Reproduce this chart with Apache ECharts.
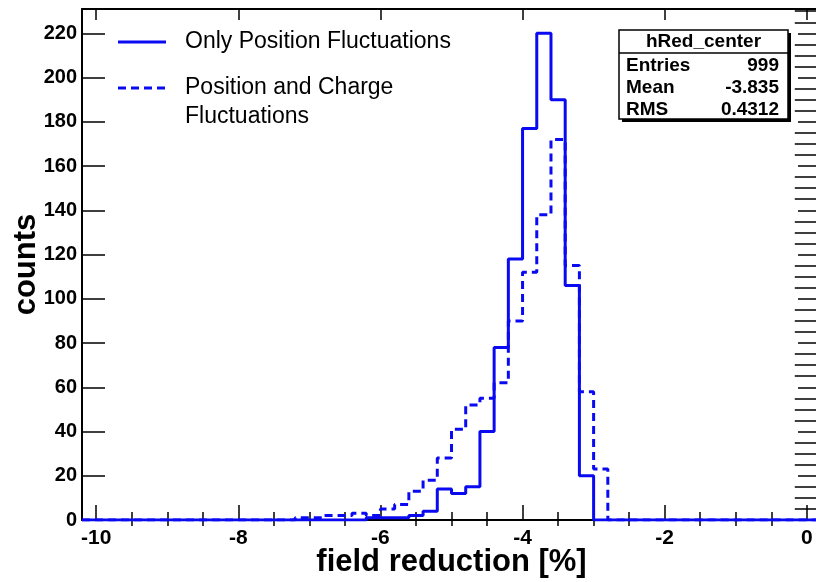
<!DOCTYPE html>
<html>
<head>
<meta charset="utf-8">
<script src="https://cdn.jsdelivr.net/npm/echarts@6/dist/echarts.min.js"></script>
<style>
  html, body { margin: 0; padding: 0; background: #fff; }
  #chart { width: 816px; height: 582px; }
</style>
</head>
<body>
<div id="chart"></div>
<script>
// histogram binning
const xRange = [-10.2, 0.2];
const binWidth = 0.2;

// only position fluctuations (solid), first bin starts at solidStart
const solidStart = -6.2;
const solidCounts = [1, 1, 1, 2, 4, 14, 12, 15, 40, 78, 118, 177, 220, 190, 106, 20];

// position and charge fluctuations (dashed)
const dashedStart = -7.2;
const dashedCounts = [1, 1, 2, 2, 3, 2, 5, 7, 13, 18, 28, 41, 52, 55, 62, 90, 112, 138, 172, 115, 58, 23];

const seriesNames = ['Only Position Fluctuations', 'Position and Charge\nFluctuations'];

// tick labels
const xTicks = [-10, -8, -6, -4, -2, 0];
const yTicks = [0, 20, 40, 60, 80, 100, 120, 140, 160, 180, 200, 220];
const yMax = 231;

// stats box
const statsTitle = 'hRed_center';
const statsRows = [['Entries', '999'], ['Mean', '-3.835'], ['RMS', '0.4312']];

const blue = '#0a0af2';
const font = 'Liberation Sans, Arial, Helvetica, sans-serif';

// turn bin counts into step points over the full axis range
function histPoints(start, counts) {
    const n = Math.round((xRange[1] - xRange[0]) / binWidth);
    const first = Math.round((start - xRange[0]) / binWidth);
    const pts = [];
    for (let i = 0; i <= n; i++) {
        const x = +(xRange[0] + i * binWidth).toFixed(2);
        const k = i - first;
        const y = (i < n && k >= 0 && k < counts.length) ? counts[k] : 0;
        pts.push([x, y]);
    }
    return pts;
}

function minorValues(from, to, step, majors) {
    const out = [];
    for (let v = from; v <= to + 1e-9; v += step) {
        const r = +v.toFixed(2);
        if (majors.indexOf(r) < 0) out.push(r);
    }
    return out;
}

const xMinor = minorValues(-10, 0, 0.5, xTicks);
const yMinor = minorValues(0, 230, 5, yTicks);

function xAxisDef(position, values, len, opts) {
    return Object.assign({
        type: 'value',
        position: position,
        min: xRange[0],
        max: xRange[1],
        axisLine: { show: true, onZero: false, lineStyle: { color: '#000', width: 2 } },
        axisTick: { show: true, inside: true, length: len, customValues: values, lineStyle: { color: '#000', width: 1.5 } },
        axisLabel: { show: false },
        splitLine: { show: false }
    }, opts || {});
}

function yAxisDef(position, values, len, opts) {
    return Object.assign({
        type: 'value',
        position: position,
        min: 0,
        max: yMax,
        axisLine: { show: true, onZero: false, lineStyle: { color: '#000', width: 2 } },
        axisTick: { show: true, inside: true, length: len, customValues: values, lineStyle: { color: '#000', width: 1.5 } },
        axisLabel: { show: false },
        splitLine: { show: false }
    }, opts || {});
}

const chart = echarts.init(document.getElementById('chart'), null, { renderer: 'canvas' });

const option = {
    animation: false,
    backgroundColor: '#fff',
    grid: { left: 82, right: -5, top: 9, bottom: 62, containLabel: false, outerBoundsMode: 'none' },
    xAxis: [
        xAxisDef('bottom', xTicks, 15, {
            axisLabel: {
                show: true, customValues: xTicks, color: '#000', fontWeight: 'bold',
                fontSize: 21, fontFamily: font, margin: 8
            },
            name: 'field reduction [%]',
            nameLocation: 'middle',
            nameGap: 27,
            nameMoveOverlap: false,
            nameTextStyle: { color: '#000', fontWeight: 'bold', fontSize: 31, fontFamily: font }
        }),
        xAxisDef('bottom', xMinor, 8, { axisLine: { show: false } }),
        xAxisDef('top', xTicks, 11),
        xAxisDef('top', xMinor, 6, { axisLine: { show: false } })
    ],
    yAxis: [
        yAxisDef('left', yTicks, 23, {
            axisLabel: {
                show: true, customValues: yTicks, color: '#000', fontWeight: 'bold',
                fontSize: 20, fontFamily: font, margin: 5
            },
            name: 'counts',
            nameLocation: 'middle',
            nameGap: 40,
            nameMoveOverlap: false,
            nameTextStyle: { color: '#000', fontWeight: 'bold', fontSize: 31, fontFamily: font }
        }),
        yAxisDef('left', yMinor, 12, { axisLine: { show: false } }),
        yAxisDef('right', yTicks, 23),
        yAxisDef('right', yMinor, 12, { axisLine: { show: false } })
    ],
    series: [
        {
            name: seriesNames[1],
            type: 'line',
            step: 'end',
            symbol: 'none',
            data: histPoints(dashedStart, dashedCounts),
            lineStyle: { color: blue, width: 3, type: [8, 5] },
            z: 3
        },
        {
            name: seriesNames[0],
            type: 'line',
            step: 'end',
            symbol: 'none',
            data: histPoints(solidStart, solidCounts),
            lineStyle: { color: blue, width: 3 },
            z: 4
        }
    ],
    graphic: [
        // legend
        { type: 'line', shape: { x1: 118, y1: 42, x2: 166, y2: 42 }, style: { stroke: blue, lineWidth: 3 } },
        { type: 'text', x: 185, y: 42, style: { text: seriesNames[0], fontSize: 23, fontFamily: font, fill: '#000', verticalAlign: 'middle' } },
        { type: 'line', shape: { x1: 118, y1: 88, x2: 166, y2: 88 }, style: { stroke: blue, lineWidth: 3, lineDash: [8, 5] } },
        { type: 'text', x: 185, y: 73.5, style: { text: seriesNames[1], fontSize: 23, fontFamily: font, fill: '#000', verticalAlign: 'top', lineHeight: 29 } },
        // stats box
        { type: 'rect', shape: { x: 622, y: 33, width: 169, height: 89 }, style: { fill: '#000' }, z: 10 },
        { type: 'rect', shape: { x: 619, y: 30, width: 169, height: 89 }, style: { fill: '#fff', stroke: '#000', lineWidth: 1.5 }, z: 11 },
        { type: 'line', shape: { x1: 619, y1: 53, x2: 788, y2: 53 }, style: { stroke: '#000', lineWidth: 1.5 }, z: 12 },
        { type: 'text', x: 703.5, y: 41.5, style: { text: statsTitle, fontSize: 19, fontWeight: 'bold', fontFamily: font, fill: '#000', align: 'center', verticalAlign: 'middle' }, z: 12 }
    ].concat(statsRows.flatMap((row, i) => [
        { type: 'text', x: 626, y: 66 + i * 22, style: { text: row[0], fontSize: 19, fontWeight: 'bold', fontFamily: font, fill: '#000', verticalAlign: 'middle' }, z: 12 },
        { type: 'text', x: 779, y: 66 + i * 22, style: { text: row[1], fontSize: 19, fontWeight: 'bold', fontFamily: font, fill: '#000', align: 'right', verticalAlign: 'middle' }, z: 12 }
    ]))
};

chart.setOption(option);
</script>
</body>
</html>
